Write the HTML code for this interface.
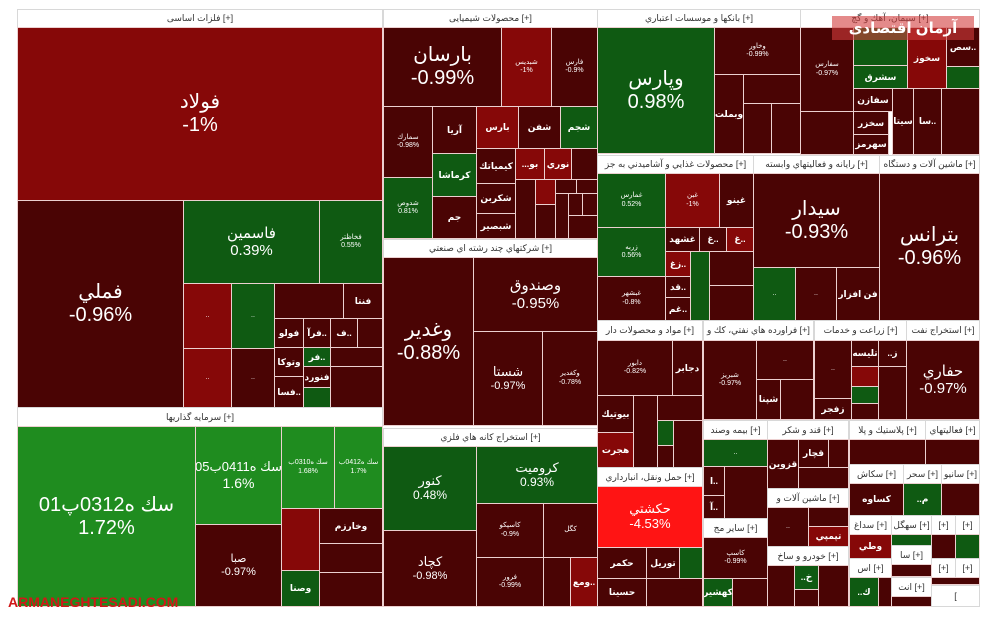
<!DOCTYPE html>
<html><head><meta charset="utf-8"><style>
body{margin:0;width:1000px;height:619px;background:#fff;position:relative;overflow:hidden;font-family:"Liberation Sans","DejaVu Sans",sans-serif}
div.t{position:absolute;box-sizing:border-box;border:1px solid #ecd0d0;color:#fff;display:flex;flex-direction:column;align-items:center;justify-content:center;text-align:center;font-size:7px;line-height:1.15;overflow:hidden;white-space:nowrap}
div.h{position:absolute;box-sizing:border-box;border:1px solid #d8d8d8;background:#fff;color:#333;font-size:9px;display:flex;align-items:center;justify-content:center;overflow:hidden;white-space:nowrap}
.D{background:#4a0404}.R{background:#860808}.G{background:#0f5a12}.L{background:#1f8c1f}.B{background:#ff1414}
div.t.x{font-size:20px}div.t.m{font-size:15px}div.t.s{font-size:9px;font-weight:bold}
</style></head><body>
<div class="h" style="left:17px;top:9px;width:366px;height:19px">فلزات اساسی [+]</div>
<div class="t R x" style="left:17px;top:27px;width:366px;height:174px">فولاد<br>-1%</div>
<div class="t D x" style="left:17px;top:200px;width:167px;height:208px">فملي<br>-0.96%</div>
<div class="t G m" style="left:183px;top:200px;width:137px;height:84px">فاسمين<br>0.39%</div>
<div class="t G" style="left:319px;top:200px;width:64px;height:84px">فخاظتر<br>0.55%</div>
<div class="t R" style="left:183px;top:283px;width:49px;height:66px">..</div>
<div class="t R" style="left:183px;top:348px;width:49px;height:60px">..</div>
<div class="t G" style="left:231px;top:283px;width:44px;height:66px">..</div>
<div class="t D" style="left:231px;top:348px;width:44px;height:60px">..</div>
<div class="t D" style="left:274px;top:283px;width:70px;height:36px"></div>
<div class="t D s" style="left:343px;top:283px;width:40px;height:36px">فنتا</div>
<div class="t D s" style="left:274px;top:318px;width:30px;height:30px">فولو</div>
<div class="t D s" style="left:303px;top:318px;width:28px;height:30px">فرآ..</div>
<div class="t D s" style="left:330px;top:318px;width:28px;height:30px">ف..</div>
<div class="t D" style="left:357px;top:318px;width:26px;height:30px"></div>
<div class="t D s" style="left:274px;top:347px;width:30px;height:30px">وتوكا</div>
<div class="t G s" style="left:303px;top:347px;width:28px;height:20px">فر..</div>
<div class="t D" style="left:330px;top:347px;width:53px;height:20px"></div>
<div class="t D s" style="left:274px;top:376px;width:30px;height:32px">فسا..</div>
<div class="t D s" style="left:303px;top:366px;width:28px;height:22px">فنورد</div>
<div class="t G" style="left:303px;top:387px;width:28px;height:21px"></div>
<div class="t D" style="left:330px;top:366px;width:53px;height:42px"></div>
<div class="h" style="left:17px;top:407px;width:366px;height:20px">سرمایه گذاریها [+]</div>
<div class="t L x" style="left:17px;top:426px;width:179px;height:181px">سك ه0312پ01<br>1.72%</div>
<div class="t L" style="left:195px;top:426px;width:87px;height:99px"><span style="font-size:13px">سك ه0411ب05</span><span style="font-size:14px">1.6%</span></div>
<div class="t L" style="left:281px;top:426px;width:54px;height:83px">سك ه0310ب<br>1.68%</div>
<div class="t L" style="left:334px;top:426px;width:49px;height:83px">سك ه0412ب<br>1.7%</div>
<div class="t D" style="left:195px;top:524px;width:87px;height:83px"><span style="font-size:11px">صبا</span><span style="font-size:11px">-0.97%</span></div>
<div class="t R" style="left:281px;top:508px;width:39px;height:63px"></div>
<div class="t D s" style="left:319px;top:508px;width:64px;height:36px">وخارزم</div>
<div class="t D" style="left:319px;top:543px;width:64px;height:30px"></div>
<div class="t G s" style="left:281px;top:570px;width:39px;height:37px">وصنا</div>
<div class="t D" style="left:319px;top:572px;width:64px;height:35px"></div>
<div class="h" style="left:383px;top:9px;width:215px;height:19px">محصولات شیمیایی [+]</div>
<div class="t D x" style="left:383px;top:27px;width:119px;height:80px">بارسان<br>-0.99%</div>
<div class="t R" style="left:501px;top:27px;width:51px;height:80px">شبديس<br>-1%</div>
<div class="t D" style="left:551px;top:27px;width:47px;height:80px">فارس<br>-0.9%</div>
<div class="t D" style="left:383px;top:106px;width:50px;height:72px">سمارك<br>-0.98%</div>
<div class="t G" style="left:383px;top:177px;width:50px;height:62px">شدوص<br>0.81%</div>
<div class="t D s" style="left:432px;top:106px;width:45px;height:48px">آريا</div>
<div class="t R s" style="left:476px;top:106px;width:43px;height:43px">بارس</div>
<div class="t D s" style="left:518px;top:106px;width:43px;height:43px">شفن</div>
<div class="t G s" style="left:560px;top:106px;width:38px;height:43px">شجم</div>
<div class="t G s" style="left:432px;top:153px;width:45px;height:44px">كرماشا</div>
<div class="t D s" style="left:432px;top:196px;width:45px;height:43px">جم</div>
<div class="t D s" style="left:476px;top:148px;width:40px;height:36px">كيمياتك</div>
<div class="t R s" style="left:515px;top:148px;width:30px;height:32px">...بو</div>
<div class="t R s" style="left:544px;top:148px;width:28px;height:32px">نوري</div>
<div class="t D" style="left:571px;top:148px;width:27px;height:32px"></div>
<div class="t D s" style="left:476px;top:183px;width:40px;height:31px">شكربن</div>
<div class="t D s" style="left:476px;top:213px;width:40px;height:26px">شبصير</div>
<div class="t D" style="left:515px;top:179px;width:21px;height:60px"></div>
<div class="t R" style="left:535px;top:179px;width:21px;height:26px"></div>
<div class="t D" style="left:535px;top:204px;width:21px;height:35px"></div>
<div class="t D" style="left:555px;top:179px;width:22px;height:15px"></div>
<div class="t D" style="left:576px;top:179px;width:22px;height:15px"></div>
<div class="t D" style="left:555px;top:193px;width:14px;height:46px"></div>
<div class="t D" style="left:568px;top:193px;width:15px;height:23px"></div>
<div class="t D" style="left:582px;top:193px;width:16px;height:23px"></div>
<div class="t D" style="left:568px;top:215px;width:30px;height:24px"></div>
<div class="h" style="left:383px;top:239px;width:215px;height:19px">شركتهاي چند رشته اي صنعتي [+]</div>
<div class="t D x" style="left:383px;top:257px;width:91px;height:169px">وغدير<br>-0.88%</div>
<div class="t D m" style="left:473px;top:257px;width:125px;height:75px">وصندوق<br>-0.95%</div>
<div class="t D" style="left:473px;top:331px;width:70px;height:95px"><span style="font-size:13px">شستا</span><span style="font-size:11px">-0.97%</span></div>
<div class="t D" style="left:542px;top:331px;width:56px;height:95px">وكغدير<br>-0.78%</div>
<div class="h" style="left:383px;top:428px;width:215px;height:19px">استخراج كانه هاي فلزي [+]</div>
<div class="t G" style="left:383px;top:446px;width:94px;height:85px"><span style="font-size:13px">كنور</span><span style="font-size:12px">0.48%</span></div>
<div class="t G" style="left:476px;top:446px;width:122px;height:58px"><span style="font-size:13px">كروميت</span><span style="font-size:12px">0.93%</span></div>
<div class="t D" style="left:383px;top:530px;width:94px;height:77px"><span style="font-size:13px">كچاد</span><span style="font-size:11px">-0.98%</span></div>
<div class="t D" style="left:476px;top:503px;width:68px;height:55px">كاسپكو<br>-0.9%</div>
<div class="t D" style="left:543px;top:503px;width:55px;height:55px">كگل</div>
<div class="t D" style="left:476px;top:557px;width:68px;height:50px">فرور<br>-0.99%</div>
<div class="t D" style="left:543px;top:557px;width:28px;height:50px"></div>
<div class="t R s" style="left:570px;top:557px;width:28px;height:50px">ومع..</div>
<div class="h" style="left:597px;top:9px;width:204px;height:19px">بانكها و موسسات اعتباري [+]</div>
<div class="t G x" style="left:597px;top:27px;width:118px;height:127px">وپارس<br>0.98%</div>
<div class="t D" style="left:714px;top:27px;width:87px;height:48px">وخاور<br>-0.99%</div>
<div class="t D s" style="left:714px;top:74px;width:30px;height:80px">وبملت</div>
<div class="t D" style="left:743px;top:74px;width:58px;height:30px"></div>
<div class="t D" style="left:743px;top:103px;width:29px;height:51px"></div>
<div class="t D" style="left:771px;top:103px;width:30px;height:51px"></div>
<div class="h" style="left:800px;top:9px;width:180px;height:19px">سيمان، آهك و گچ [+]</div>
<div class="t D" style="left:800px;top:27px;width:54px;height:85px">سفارس<br>-0.97%</div>
<div class="t G s" style="left:853px;top:27px;width:55px;height:39px"></div>
<div class="t G s" style="left:853px;top:65px;width:55px;height:24px">سشرق</div>
<div class="t R s" style="left:907px;top:27px;width:40px;height:62px">سخوز</div>
<div class="t D s" style="left:946px;top:27px;width:34px;height:40px">سص..</div>
<div class="t G" style="left:946px;top:66px;width:34px;height:23px"></div>
<div class="t D s" style="left:853px;top:88px;width:40px;height:24px">سفازن</div>
<div class="t D" style="left:800px;top:111px;width:54px;height:44px"></div>
<div class="t D s" style="left:853px;top:111px;width:36px;height:24px">سخزر</div>
<div class="t D s" style="left:853px;top:134px;width:36px;height:21px">سهرمز</div>
<div class="t D s" style="left:892px;top:88px;width:22px;height:67px">سيتا</div>
<div class="t D s" style="left:913px;top:88px;width:29px;height:67px">سا..</div>
<div class="t D" style="left:941px;top:88px;width:39px;height:67px"></div>
<div class="h" style="left:597px;top:155px;width:157px;height:19px">محصولات غذايي و آشاميدني به جز [+]</div>
<div class="t G" style="left:597px;top:173px;width:69px;height:55px">غمارس<br>0.52%</div>
<div class="t R" style="left:665px;top:173px;width:55px;height:55px">غبن<br>-1%</div>
<div class="t D s" style="left:719px;top:173px;width:35px;height:55px">غينو</div>
<div class="t G" style="left:597px;top:227px;width:69px;height:50px">زربه<br>0.56%</div>
<div class="t D s" style="left:665px;top:227px;width:35px;height:25px">غشهد</div>
<div class="t D s" style="left:699px;top:227px;width:28px;height:25px">غ..</div>
<div class="t R s" style="left:726px;top:227px;width:28px;height:25px">غ..</div>
<div class="t R s" style="left:665px;top:251px;width:26px;height:26px">زغ..</div>
<div class="t D" style="left:597px;top:276px;width:69px;height:45px">غبشهر<br>-0.8%</div>
<div class="t D s" style="left:665px;top:276px;width:26px;height:22px">قد..</div>
<div class="t D s" style="left:665px;top:297px;width:26px;height:24px">غم..</div>
<div class="t G" style="left:690px;top:251px;width:20px;height:70px"></div>
<div class="t D" style="left:709px;top:251px;width:45px;height:35px"></div>
<div class="t D" style="left:709px;top:285px;width:45px;height:36px"></div>
<div class="h" style="left:753px;top:155px;width:127px;height:19px">رايانه و فعاليتهاي وابسته [+]</div>
<div class="t D x" style="left:753px;top:173px;width:127px;height:95px">سيدار<br>-0.93%</div>
<div class="t G" style="left:753px;top:267px;width:43px;height:54px">..</div>
<div class="t D" style="left:795px;top:267px;width:42px;height:54px">..</div>
<div class="t D s" style="left:836px;top:267px;width:44px;height:54px">فن افزار</div>
<div class="h" style="left:879px;top:155px;width:101px;height:19px">ماشين آلات و دستگاه [+]</div>
<div class="t D x" style="left:879px;top:173px;width:101px;height:148px">بترانس<br>-0.96%</div>
<div class="h" style="left:597px;top:320px;width:106px;height:21px">مواد و محصولات دار [+]</div>
<div class="t D" style="left:597px;top:340px;width:76px;height:56px">دابور<br>-0.82%</div>
<div class="t D s" style="left:672px;top:340px;width:31px;height:56px">دجابر</div>
<div class="t D s" style="left:597px;top:395px;width:37px;height:38px">بيوتيك</div>
<div class="t R s" style="left:597px;top:432px;width:37px;height:36px">هجرت</div>
<div class="t D" style="left:633px;top:395px;width:25px;height:73px"></div>
<div class="t G" style="left:657px;top:420px;width:17px;height:26px"></div>
<div class="t D" style="left:657px;top:395px;width:46px;height:26px"></div>
<div class="t D" style="left:673px;top:420px;width:30px;height:48px"></div>
<div class="t D" style="left:657px;top:445px;width:17px;height:23px"></div>
<div class="h" style="left:703px;top:320px;width:111px;height:21px">فراورده هاي نفتي، كك و [+]</div>
<div class="t D" style="left:703px;top:340px;width:54px;height:80px">شبريز<br>-0.97%</div>
<div class="t D" style="left:756px;top:340px;width:58px;height:40px">..</div>
<div class="t D s" style="left:756px;top:379px;width:25px;height:41px">شپنا</div>
<div class="t D" style="left:780px;top:379px;width:34px;height:41px"></div>
<div class="h" style="left:814px;top:320px;width:93px;height:21px">زراعت و خدمات [+]</div>
<div class="t D" style="left:814px;top:340px;width:38px;height:59px">..</div>
<div class="t D s" style="left:851px;top:340px;width:28px;height:27px">تليسه</div>
<div class="t D s" style="left:878px;top:340px;width:29px;height:27px">..ز</div>
<div class="t R" style="left:851px;top:366px;width:28px;height:21px"></div>
<div class="t G" style="left:851px;top:386px;width:28px;height:18px"></div>
<div class="t D" style="left:878px;top:366px;width:29px;height:54px"></div>
<div class="t D s" style="left:814px;top:398px;width:38px;height:22px">زفجر</div>
<div class="t D" style="left:851px;top:403px;width:28px;height:17px"></div>
<div class="h" style="left:906px;top:320px;width:74px;height:21px">استخراج نفت [+]</div>
<div class="t D m" style="left:906px;top:340px;width:74px;height:80px">حفاري<br>-0.97%</div>
<div class="h" style="left:703px;top:420px;width:65px;height:20px">بيمه وصند [+]</div>
<div class="t G" style="left:703px;top:439px;width:65px;height:28px">..</div>
<div class="t D s" style="left:703px;top:466px;width:22px;height:30px">ا..</div>
<div class="t D s" style="left:703px;top:495px;width:22px;height:24px">آ..</div>
<div class="t D" style="left:724px;top:466px;width:44px;height:53px"></div>
<div class="h" style="left:767px;top:420px;width:82px;height:20px">قند و شكر [+]</div>
<div class="t D s" style="left:767px;top:439px;width:32px;height:50px">قزوين</div>
<div class="t D s" style="left:798px;top:439px;width:31px;height:29px">قچار</div>
<div class="t D" style="left:828px;top:439px;width:21px;height:29px"></div>
<div class="t D" style="left:798px;top:467px;width:51px;height:22px"></div>
<div class="h" style="left:849px;top:420px;width:77px;height:20px">پلاستيك و پلا [+]</div>
<div class="t D" style="left:849px;top:439px;width:77px;height:26px"></div>
<div class="h" style="left:925px;top:420px;width:55px;height:20px">فعاليتهاي [+]</div>
<div class="t D" style="left:925px;top:439px;width:55px;height:26px"></div>
<div class="h" style="left:849px;top:464px;width:55px;height:20px">سكاش [+]</div>
<div class="h" style="left:903px;top:464px;width:39px;height:20px">سحر [+]</div>
<div class="h" style="left:941px;top:464px;width:39px;height:20px">سانيو [+]</div>
<div class="t D s" style="left:849px;top:483px;width:55px;height:33px">كساوه</div>
<div class="t G s" style="left:903px;top:483px;width:39px;height:33px">..م</div>
<div class="t D" style="left:941px;top:483px;width:39px;height:33px"></div>
<div class="h" style="left:767px;top:488px;width:82px;height:20px">ماشين آلات و [+]</div>
<div class="t D" style="left:767px;top:507px;width:42px;height:40px">..</div>
<div class="t D" style="left:808px;top:507px;width:41px;height:20px"></div>
<div class="t R s" style="left:808px;top:526px;width:41px;height:21px">تپمپي</div>
<div class="h" style="left:849px;top:515px;width:43px;height:20px">سداغ [+]</div>
<div class="h" style="left:891px;top:515px;width:41px;height:20px">سهگل [+]</div>
<div class="h" style="left:931px;top:515px;width:25px;height:20px">[+]</div>
<div class="h" style="left:955px;top:515px;width:25px;height:20px">[+]</div>
<div class="t R s" style="left:849px;top:534px;width:43px;height:25px">وطي</div>
<div class="t G" style="left:891px;top:534px;width:41px;height:12px"></div>
<div class="t D" style="left:931px;top:534px;width:25px;height:25px"></div>
<div class="t G" style="left:955px;top:534px;width:25px;height:25px"></div>
<div class="h" style="left:703px;top:518px;width:65px;height:20px">ساير مج [+]</div>
<div class="t D" style="left:703px;top:537px;width:65px;height:42px">كاسپ<br>-0.99%</div>
<div class="t G s" style="left:703px;top:578px;width:30px;height:29px">كهشير</div>
<div class="t D" style="left:732px;top:578px;width:36px;height:29px"></div>
<div class="h" style="left:767px;top:546px;width:82px;height:20px">خودرو و ساخ [+]</div>
<div class="t D" style="left:767px;top:565px;width:28px;height:42px"></div>
<div class="t G s" style="left:794px;top:565px;width:25px;height:25px">..خ</div>
<div class="t D" style="left:818px;top:565px;width:31px;height:42px"></div>
<div class="t D" style="left:794px;top:589px;width:25px;height:18px"></div>
<div class="h" style="left:891px;top:545px;width:41px;height:20px">سا [+]</div>
<div class="h" style="left:931px;top:558px;width:25px;height:20px">[+]</div>
<div class="h" style="left:955px;top:558px;width:25px;height:20px">[+]</div>
<div class="h" style="left:849px;top:558px;width:43px;height:20px">اس [+]</div>
<div class="t G s" style="left:849px;top:577px;width:30px;height:30px">..ك</div>
<div class="t D" style="left:878px;top:577px;width:14px;height:30px"></div>
<div class="t D" style="left:891px;top:564px;width:41px;height:13px"></div>
<div class="h" style="left:891px;top:577px;width:41px;height:20px">انت [+]</div>
<div class="t D" style="left:891px;top:596px;width:41px;height:11px"></div>
<div class="t D" style="left:931px;top:577px;width:49px;height:8px"></div>
<div class="h" style="left:931px;top:585px;width:49px;height:22px">[</div>
<div class="h" style="left:597px;top:467px;width:106px;height:20px">حمل ونقل، انبارداري [+]</div>
<div class="t B" style="left:597px;top:486px;width:106px;height:62px"><span style="font-size:13px">حكشتي</span><span style="font-size:13px">-4.53%</span></div>
<div class="t D s" style="left:597px;top:547px;width:50px;height:32px">حكمر</div>
<div class="t D s" style="left:646px;top:547px;width:34px;height:32px">توريل</div>
<div class="t G" style="left:679px;top:547px;width:24px;height:32px"></div>
<div class="t D s" style="left:597px;top:578px;width:50px;height:29px">حسينا</div>
<div class="t D" style="left:646px;top:578px;width:57px;height:29px"></div>
<div style="position:absolute;left:832px;top:16px;width:142px;height:24px;background:rgba(210,60,60,0.6);color:#fff;font-size:15px;font-weight:bold;display:flex;align-items:center;justify-content:center">آرمان اقتصادی</div>
<div style="position:absolute;left:8px;top:594px;color:#d01818;font-size:14px;font-weight:bold">ARMANEGHTESADI.COM</div>
</body></html>
